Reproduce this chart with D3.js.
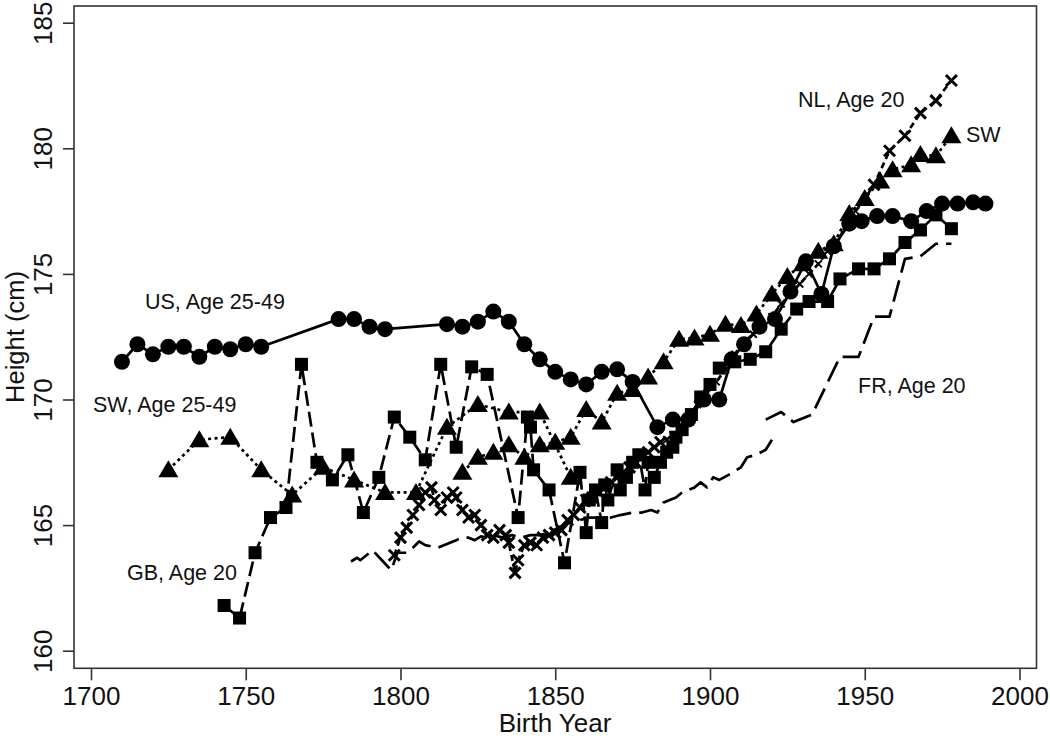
<!DOCTYPE html>
<html>
<head>
<meta charset="utf-8">
<script src="https://cdn.jsdelivr.net/npm/d3@7"></script>
<style>
  body { margin: 0; background: #fff; }
  svg text { font-family: Arial, "Liberation Sans", sans-serif; fill: #111; }
</style>
</head>
<body>
<svg id="chart" width="1050" height="738"></svg>
<script>
// Heights by birth cohort

const xTicks = [1700, 1750, 1800, 1850, 1900, 1950, 2000];
const yTicks = [160, 165, 170, 175, 180, 185];

// US, Age 25-49 (solid, circles)
const usYears = [1710,1715,1720,1725,1730,1735,1740,1745,1750,1755,1780,1785,1790,1795,1815,1820,1825,1830,1835,1840,1845,1850,1855,1860,1865,1870,1875,1883,1888,1893,1898,1903,1907,1911,1916,1921,1926,1931,1936,1940,1945,1949,1954,1959,1965,1970,1975,1980,1985,1989];
const usHeights = [171.5,172.2,171.8,172.1,172.1,171.7,172.1,172.0,172.2,172.1,173.2,173.2,172.9,172.8,173.0,172.9,173.1,173.5,173.1,172.2,171.6,171.1,170.8,170.6,171.1,171.2,170.7,168.9,169.2,169.2,170.0,170.0,171.6,172.2,172.9,173.2,174.3,175.5,174.2,176.1,177.0,177.1,177.3,177.3,177.1,177.5,177.8,177.8,177.85,177.8];

// SW, Age 25-49 (dotted, triangles)
const swAdultYears = [1725,1735,1745,1755,1765,1775,1785,1795,1805,1815,1825,1835,1845,1855];
const swAdultHeights = [167.2,168.4,168.5,167.2,166.2,167.3,166.8,166.3,166.3,168.9,169.8,169.5,169.5,166.9];

// SW conscripts (dotted, triangles)
const swYears = [1820,1825,1830,1835,1840,1845,1850,1855,1860,1865,1870,1875,1880,1885,1890,1895,1900,1905,1910,1915,1920,1925,1930,1935,1940,1945,1950,1955,1959,1965,1968,1973,1978];
const swHeights = [167.1,167.7,167.9,168.2,167.7,168.2,168.3,168.5,169.6,169.1,170.25,170.4,170.9,171.5,172.4,172.45,172.6,173.0,172.95,173.4,174.2,174.9,175.4,175.9,176.2,177.4,178.0,178.7,179.15,179.35,179.75,179.7,180.5];

// GB, Age 20 (long dash, squares)
const gbYears = [1743,1748,1753,1758,1763,1768,1773,1778,1783,1788,1793,1798,1803,1808,1813,1818,1823,1828,1838,1841,1842,1843,1848,1853,1858,1860,1861,1863,1865,1866,1867,1870,1871,1873,1875,1877,1879,1880,1882,1884,1886,1888,1889,1891,1894,1897,1900,1903,1908,1913,1918,1923,1928,1932,1938,1942,1948,1953,1958,1963,1968,1973,1978];
const gbHeights = [161.8,161.3,163.9,165.3,165.7,171.4,167.5,166.8,167.8,165.5,166.9,169.3,168.5,167.6,171.4,168.1,171.3,171.0,165.3,169.3,168.9,167.2,166.4,163.5,167.1,164.7,166.0,166.4,165.1,166.6,166.0,167.2,166.4,166.9,167.5,167.8,166.4,167.5,166.9,167.5,167.9,168.1,168.5,168.8,169.4,170.1,170.6,171.25,171.5,171.6,171.9,172.8,173.6,173.9,173.9,174.8,175.2,175.2,175.6,176.25,176.75,177.35,176.8];

// NL, Age 20 (short dash, x markers)
const nlYears = [1798,1800,1802,1804,1806,1808,1810,1811,1813,1815,1817,1818,1820,1822,1824,1826,1828,1830,1832,1834,1835,1837,1838,1840,1842,1844,1846,1848,1850,1852,1854,1856,1858,1860,1862,1864,1866,1868,1870,1872,1874,1876,1878,1880,1882,1884,1886,1888,1890,1893,1896,1899,1902,1905,1908,1911,1914,1917,1920,1923,1926,1929,1932,1935,1938,1941,1944,1947,1950,1953,1958,1963,1968,1973,1978];
const nlHeights = [163.8,164.5,164.9,165.4,165.8,166.3,166.5,166.0,165.6,166.1,166.3,166.1,165.6,165.3,165.4,165.0,164.6,164.5,164.8,164.6,164.3,163.1,163.6,164.2,164.3,164.2,164.5,164.6,164.7,164.8,165.2,165.4,165.7,166.0,166.1,166.3,166.5,166.7,166.9,167.1,167.3,167.5,167.8,167.9,168.1,168.3,168.4,168.6,168.8,169.3,169.8,170.25,170.7,171.2,171.8,172.3,172.6,172.9,173.3,173.8,174.2,174.6,175.0,175.4,175.9,176.3,176.9,177.5,178.0,178.55,179.9,180.5,181.4,181.9,182.7];

// FR, Age 20 (long dash, no markers) - two pieces
const frEarlyYears = [1784,1786,1787,1789,1791,1794,1797,1799,1802,1804,1806,1808,1810,1812,1814,1816,1818,1820,1822,1824,1826,1828,1830,1833,1836,1839,1842,1845,1848,1851,1855,1858,1861,1864,1868,1871,1875,1878,1881,1883,1885,1887,1889,1891,1895,1897,1899,1901,1903,1906,1910,1912,1915,1918,1920];
const frEarlyHeights = [163.55,163.7,163.6,163.8,164.0,163.6,163.2,163.9,163.9,164.1,164.35,164.2,164.15,164.1,164.2,164.3,164.4,164.5,164.5,164.4,164.55,164.5,164.6,164.5,164.6,164.5,164.6,164.6,164.7,164.9,165.1,165.2,165.3,165.3,165.3,165.4,165.5,165.5,165.6,165.5,165.9,166.0,166.1,166.3,166.5,166.7,166.5,166.9,166.8,167.0,167.3,167.7,167.8,168.0,168.4];
const frLateYears = [1918,1923,1927,1933,1942,1948,1953,1958,1963,1968,1973,1978];
const frLateHeights = [169.2,169.5,169.1,169.4,171.7,171.7,173.3,173.3,175.6,175.7,176.2,176.2];

const labels = [
    { text: 'US, Age 25-49', x: 145, y: 309 },
    { text: 'SW, Age 25-49', x: 93, y: 412 },
    { text: 'GB, Age 20', x: 127, y: 580 },
    { text: 'NL, Age 20', x: 798, y: 107 },
    { text: 'SW', x: 966, y: 142 },
    { text: 'FR, Age 20', x: 858, y: 393 }
];

const svg = d3.select('#chart');

const x = d3.scaleLinear().domain([1700, 2000]).range([91, 1019.5]);
const y = d3.scaleLinear().domain([160, 185]).range([650.7, 22.7]);

const frame = { left: 74, right: 1036.5, top: 6, bottom: 668.3 };

function zip(years, heights) {
    return years.map((yr, i) => ({ yr: yr, h: heights[i] }));
}

const line = d3.line().x(d => x(d.yr)).y(d => y(d.h));

function drawLine(data, dash) {
    svg.append('path')
        .datum(data)
        .attr('d', line)
        .attr('fill', 'none')
        .attr('stroke', '#000')
        .attr('stroke-width', 2.7)
        .attr('stroke-dasharray', dash)
        .attr('stroke-linejoin', 'round');
}

// Frame
svg.append('rect')
    .attr('x', frame.left).attr('y', frame.top)
    .attr('width', frame.right - frame.left)
    .attr('height', frame.bottom - frame.top)
    .attr('fill', 'none')
    .attr('stroke', '#333')
    .attr('stroke-width', 1.6);

// Axes
const xAxis = d3.axisBottom(x).tickValues(xTicks).tickSize(12).tickPadding(6).tickFormat(d3.format('d'));
const gx = svg.append('g').attr('transform', `translate(0,${frame.bottom})`).call(xAxis);
gx.select('.domain').remove();
gx.selectAll('line').attr('stroke', '#333').attr('stroke-width', 1.6);
gx.selectAll('text').attr('font-size', 26).attr('font-family', 'Arial, "Liberation Sans", sans-serif').attr('fill', '#111');

const yAxis = d3.axisLeft(y).tickValues(yTicks).tickSize(11).tickFormat(d3.format('d'));
const gy = svg.append('g').attr('transform', `translate(${frame.left},0)`).call(yAxis);
gy.select('.domain').remove();
gy.selectAll('line').attr('stroke', '#333').attr('stroke-width', 1.6);
gy.selectAll('text')
    .attr('font-size', 26)
    .attr('font-family', 'Arial, "Liberation Sans", sans-serif')
    .attr('fill', '#111')
    .attr('x', null).attr('dy', null)
    .attr('text-anchor', 'middle')
    .attr('transform', 'translate(-22,0) rotate(-90)');

// Axis titles
svg.append('text')
    .attr('x', 555).attr('y', 732)
    .attr('text-anchor', 'middle')
    .attr('font-size', 26)
    .text('Birth Year');

svg.append('text')
    .attr('transform', 'translate(24,337) rotate(-90)')
    .attr('text-anchor', 'middle')
    .attr('font-size', 25.5)
    .text('Height (cm)');

// Lines
drawLine(zip(frEarlyYears, frEarlyHeights), '22,8');
drawLine(zip(frLateYears, frLateHeights), '22,8');
drawLine(zip(nlYears, nlHeights), '6,4');
drawLine(zip(gbYears, gbHeights), '15,6');
drawLine(zip(swAdultYears, swAdultHeights), '3,3.5');
drawLine(zip(swYears, swHeights), '3,3.5');
drawLine(zip(usYears, usHeights), null);

// Markers
const nlData = zip(nlYears, nlHeights);
svg.append('g').selectAll('path')
    .data(nlData)
    .enter().append('path')
    .attr('transform', d => `translate(${x(d.yr)},${y(d.h)})`)
    .attr('d', d => {
        const s = (d.yr > 1884 && d.yr < 1951) ? 3.5 : 5.5;
        return `M${-s},${-s}L${s},${s}M${-s},${s}L${s},${-s}`;
    })
    .attr('stroke', '#000')
    .attr('stroke-width', d => (d.yr > 1884 && d.yr < 1951) ? 2 : 3);

svg.append('g').selectAll('rect')
    .data(zip(gbYears, gbHeights))
    .enter().append('rect')
    .attr('x', d => x(d.yr) - 6.5)
    .attr('y', d => y(d.h) - 6.5)
    .attr('width', 13).attr('height', 13)
    .attr('fill', '#000');

const tri = 'M0,-9.5L10,7.5L-10,7.5Z';
svg.append('g').selectAll('path')
    .data(zip(swAdultYears, swAdultHeights).concat(zip(swYears, swHeights)))
    .enter().append('path')
    .attr('transform', d => `translate(${x(d.yr)},${y(d.h)})`)
    .attr('d', tri)
    .attr('fill', '#000');

svg.append('g').selectAll('circle')
    .data(zip(usYears, usHeights))
    .enter().append('circle')
    .attr('cx', d => x(d.yr))
    .attr('cy', d => y(d.h))
    .attr('r', 8)
    .attr('fill', '#000');

// Series labels
svg.append('g').selectAll('text')
    .data(labels)
    .enter().append('text')
    .attr('x', d => d.x).attr('y', d => d.y)
    .attr('font-size', 21.5)
    .text(d => d.text);
</script>
</body>
</html>
